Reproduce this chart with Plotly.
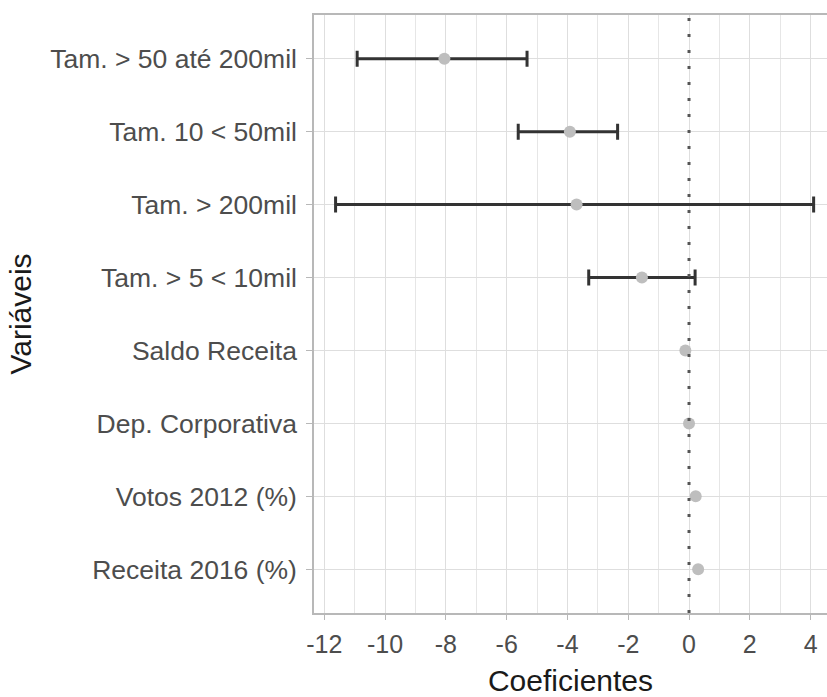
import plotly.graph_objects as go

# Data (top to bottom as displayed)
variables = ["Tam. > 50 até 200mil", "Tam. 10 < 50mil", "Tam. > 200mil", "Tam. > 5 < 10mil",
             "Saldo Receita", "Dep. Corporativa", "Votos 2012 (%)", "Receita 2016 (%)"]
estimate = [-8.05, -3.92, -3.70, -1.55, -0.12, 0.00, 0.22, 0.30]
lower = [-10.92, -5.62, -11.63, -3.30, None, None, None, None]
upper = [-5.33, -2.35, 4.10, 0.20, None, None, None, None]
x_ticks = [-12, -10, -8, -6, -4, -2, 0, 2, 4]

# split rows with a visible confidence interval from those without
ci_idx = [i for i in range(len(variables)) if lower[i] is not None]
pt_idx = [i for i in range(len(variables)) if lower[i] is None]

fig = go.Figure()
fig.add_trace(go.Scatter(
    x=[estimate[i] for i in ci_idx], y=[variables[i] for i in ci_idx], mode="markers",
    marker=dict(color="#BEBEBE", size=12),
    error_x=dict(type="data", symmetric=False,
                 array=[upper[i] - estimate[i] for i in ci_idx],
                 arrayminus=[estimate[i] - lower[i] for i in ci_idx],
                 color="#333333", thickness=3, width=8),
    showlegend=False,
))
fig.add_trace(go.Scatter(
    x=[estimate[i] for i in pt_idx], y=[variables[i] for i in pt_idx], mode="markers",
    marker=dict(color="#BEBEBE", size=12),
    showlegend=False,
))
fig.add_shape(type="line", xref="x", yref="paper", x0=0, x1=0, y0=0, y1=1,
              line=dict(color="#555555", width=3, dash="3px,13px"), layer="above")

fig.update_layout(
    width=827, height=697,
    margin=dict(l=314, r=0, t=15, b=84),
    paper_bgcolor="white", plot_bgcolor="white",
    font=dict(family="Liberation Sans, Arial, sans-serif"),
    xaxis=dict(
        range=[-12.34, 4.54], tickvals=x_ticks, ticktext=[str(v) for v in x_ticks],
        automargin=False,
        showgrid=True, gridcolor="#DEDEDE", gridwidth=1,
        minor=dict(dtick=1, tick0=0, showgrid=True, gridcolor="#E6E6E6", gridwidth=1),
        zeroline=False,
        showline=True, linecolor="#B8B8B8", linewidth=1.5, mirror=True,
        ticks="outside", ticklen=5, tickcolor="#B8B8B8", ticklabelstandoff=3,
        tickfont=dict(size=25, color="#4D4D4D"),
        title=dict(text="Coeficientes", font=dict(size=30, color="#1A1A1A"), standoff=14),
    ),
    yaxis=dict(
        categoryorder="array", categoryarray=variables[::-1],
        range=[-0.6, 7.6], automargin=False,
        showgrid=True, gridcolor="#DEDEDE", gridwidth=1,
        zeroline=False,
        showline=True, linecolor="#B8B8B8", linewidth=1.5, mirror=False,
        ticks="outside", ticklen=6, tickcolor="#B8B8B8", ticklabelstandoff=4,
        tickfont=dict(size=26.5, color="#4D4D4D"),
        title=dict(text="Variáveis", font=dict(size=30, color="#1A1A1A"), standoff=10),
    ),
)

fig.write_html("out.html", config={"displayModeBar": False},
               post_script="document.body.style.margin='0';document.body.style.overflow='hidden';")
